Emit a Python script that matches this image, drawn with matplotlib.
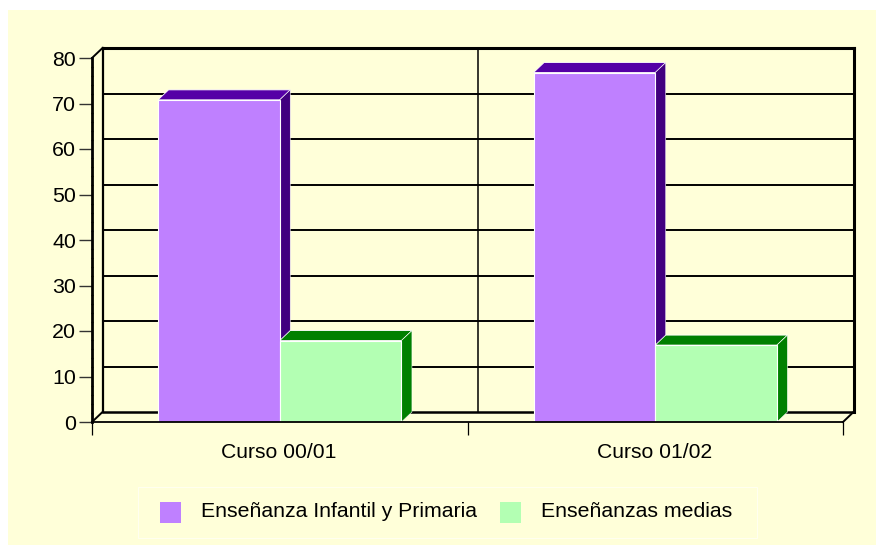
import numpy as np
import matplotlib
matplotlib.use("Agg")
import matplotlib.pyplot as plt
from matplotlib.patches import Polygon, Rectangle

plt.rcParams['font.family'] = ['Liberation Sans', 'DejaVu Sans']

# ---------- data ----------
categories = ["Curso 00/01", "Curso 01/02"]
infantil = [70.8, 76.8]
medias = [17.9, 16.9]
series_names = ["Enseñanza Infantil y Primaria", "Enseñanzas medias"]
y_ticks = [0, 10, 20, 30, 40, 50, 60, 70, 80]
y_minor = np.arange(0, 80, 2)

# ---------- colours ----------
BG = "#FFFFD9"
PURPLE, PURPLE_TOP, PURPLE_SIDE = "#BF80FF", "#5500A6", "#41007F"
GREEN, GREEN_TOP, GREEN_SIDE = "#B3FFB3", "#008000", "#008000"

W, H = 876, 545
fig = plt.figure(figsize=(W / 100, H / 100), dpi=100, facecolor="white")

# pale page background
fig.add_artist(Rectangle((8 / W, 0), 1 - 8 / W, 1 - 10 / H, transform=fig.transFigure,
                         facecolor=BG, edgecolor="none", zorder=-5))

# axes = front plane of the fake 3D box
L, R, T, B = 92, 843, 58, 422
ax = fig.add_axes([L / W, 1 - B / H, (R - L) / W, (B - T) / H])
ax.patch.set_alpha(0)
ax.set_xlim(0, 2)
ax.set_ylim(0, 80)
for s in ax.spines.values():
    s.set_visible(False)

# depth of the box, in data units
dx = 10.5 / ((R - L) / 2)
dy = 10 / ((B - T) / 80)

# ---------- back wall ----------
for v in y_ticks[1:-1]:
    ax.plot([dx, 2 + dx], [v + dy, v + dy], color="black", lw=1.4, zorder=1, clip_on=False)
ax.plot([dx, 2 + dx], [80 + dy, 80 + dy], color="black", lw=2.2, zorder=1, clip_on=False)
ax.plot([dx, 2 + dx], [dy, dy], color="black", lw=1.8, zorder=1, clip_on=False)
ax.plot([dx, dx], [dy, 80 + dy], color="black", lw=1.6, zorder=1, clip_on=False)
ax.plot([2 + dx, 2 + dx], [dy, 80 + dy], color="black", lw=2.2, zorder=1, clip_on=False)
ax.plot([1 + dx, 1 + dx], [dy, 80 + dy], color="black", lw=1.1, zorder=1, clip_on=False)

# corner edges
ax.plot([0, dx], [80, 80 + dy], color="black", lw=1.4, zorder=1, clip_on=False)
ax.plot([0, dx], [0, dy], color="black", lw=1.4, zorder=1, clip_on=False)
ax.plot([2, 2 + dx], [0, dy], color="black", lw=1.4, zorder=1, clip_on=False)

# ---------- bars ----------
bar_w = 121.7 / ((R - L) / 2)
x = np.arange(len(categories)) + 0.5


def draw_bar(x0, value, face, top, side):
    ax.bar(x0, value, width=bar_w, align="edge", color=face, edgecolor="white",
           linewidth=0.8, zorder=3)
    ax.add_patch(Polygon([(x0, value), (x0 + dx, value + dy),
                          (x0 + bar_w + dx, value + dy), (x0 + bar_w, value)],
                         facecolor=top, edgecolor="white", linewidth=0.6, zorder=2.5))
    ax.add_patch(Polygon([(x0 + bar_w, 0), (x0 + bar_w + dx, dy),
                          (x0 + bar_w + dx, value + dy), (x0 + bar_w, value)],
                         facecolor=side, edgecolor="white", linewidth=0.4, zorder=2.5))


for i in range(len(categories)):
    draw_bar(x[i] - bar_w, infantil[i], PURPLE, PURPLE_TOP, PURPLE_SIDE)
    draw_bar(x[i], medias[i], GREEN, GREEN_TOP, GREEN_SIDE)

# ---------- front axes ----------
ax.plot([0, 2], [0, 0], color="black", lw=1.3, zorder=4, clip_on=False)
ax.plot([0, 0], [0, 80], color="black", lw=2.0, zorder=4, clip_on=False)

ax.set_yticks(y_ticks)
ax.set_yticks(y_minor, minor=True)
ax.set_xticks([0, 1, 2])
ax.set_xticklabels([])
ax.tick_params(axis="y", which="major", length=9.4, width=1.0, color="#333333",
               labelsize=15.4, pad=2.2)
ax.tick_params(axis="y", which="minor", length=2, width=1.0, color="black", direction="inout")
ax.tick_params(axis="x", which="major", length=9.4, width=0.9, color="black")

for xc, name in zip(x, categories):
    ax.annotate(name, (xc, 0), xytext=(-1, -30), textcoords="offset pixels",
                ha="center", va="center", fontsize=15.2, color="black")

# ---------- legend ----------
fig.add_artist(Rectangle((138 / W, 1 - 538 / H), 619 / W, 51 / H, transform=fig.transFigure,
                         facecolor="none", edgecolor="#FFFFF0", linewidth=0.7))
leg_y = 511.5
swatches = [(160, PURPLE), (500, GREEN)]
labels_x = [201, 541]
for (sx, col), lx, name in zip(swatches, labels_x, series_names):
    fig.add_artist(Rectangle((sx / W, 1 - (leg_y + 11) / H), 21 / W, 21 / H, transform=fig.transFigure,
                             facecolor=col, edgecolor="none"))
    fig.text(lx / W, 1 - leg_y / H, name, ha="left", va="center", fontsize=15.3, color="black")

fig.savefig("out.png", dpi=100, facecolor=fig.get_facecolor())
